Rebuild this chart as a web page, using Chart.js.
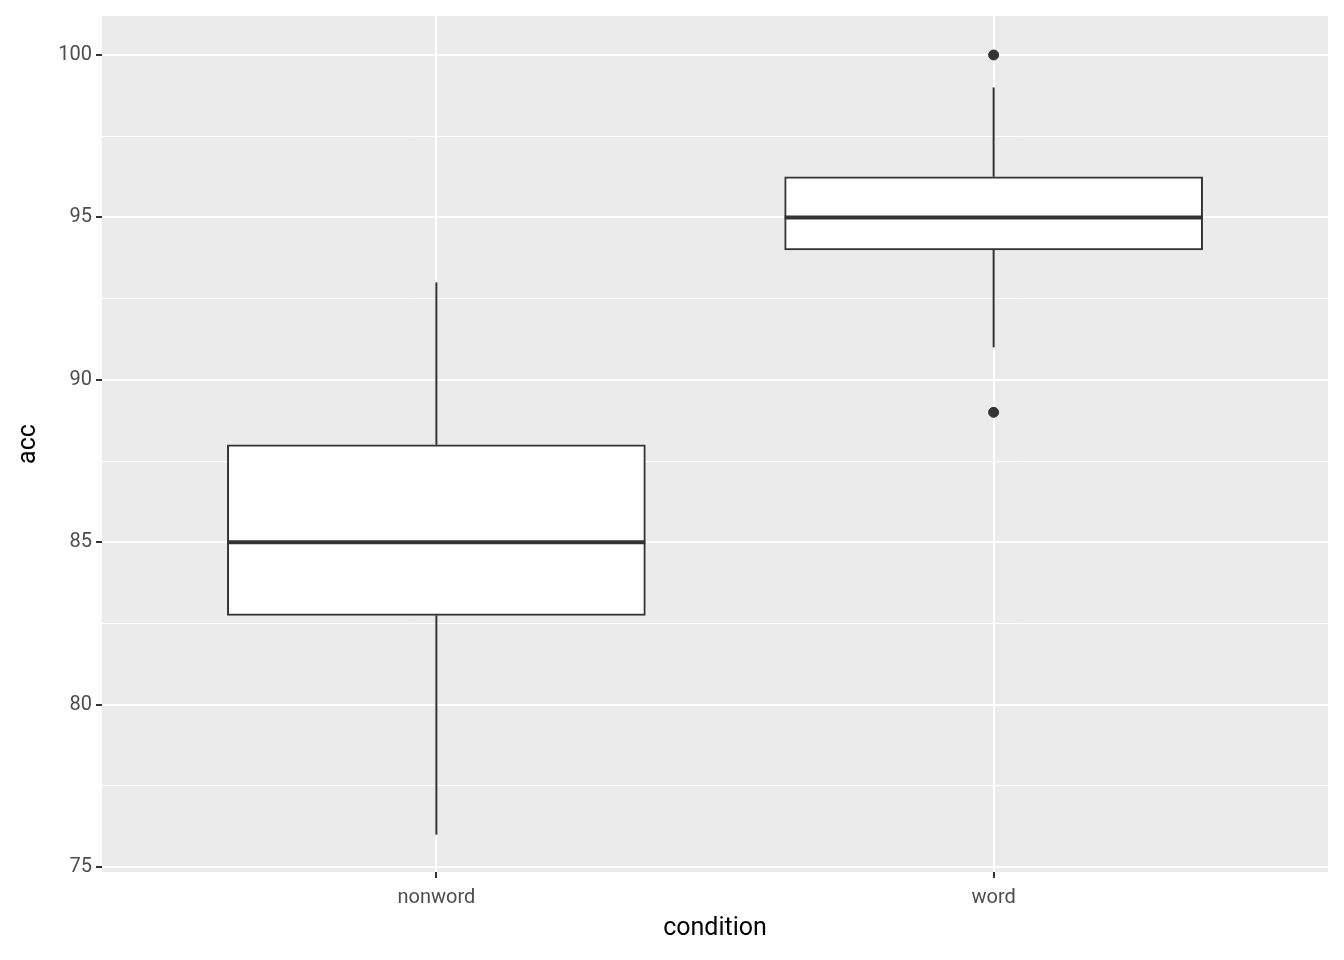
<!DOCTYPE html>
<html>
<head>
<meta charset="utf-8">
<script src="https://cdn.jsdelivr.net/npm/chart.js@4"></script>
<style>
  html, body { margin: 0; padding: 0; background: #fff; }
  #wrap { width: 1344px; height: 960px; }
</style>
</head>
<body>
<div id="wrap"><canvas id="boxChart"></canvas></div>
<script>
// Box summary per condition
const categories = ['nonword', 'word'];
const whiskerLow = [76, 91];
const q1 = [82.75, 94];
const medians = [85, 95];
const q3 = [88, 96.25];
const whiskerHigh = [93, 99];
const outliers = [[], [100, 89]];
const yTicks = [75, 80, 85, 90, 95, 100];

const boxHalf = 0.375;
const ink = '#333333';

// Paint the grey panel behind the grid
const panelBg = {
    id: 'panelBg',
    beforeDraw(chart) {
        const a = chart.chartArea;
        const ctx = chart.ctx;
        ctx.save();
        ctx.fillStyle = '#EBEBEB';
        ctx.fillRect(a.left, a.top, a.right - a.left, a.bottom - a.top);
        ctx.restore();
    }
};

const datasets = [];

// whiskers
categories.forEach((c, i) => {
    [[whiskerLow[i], q1[i]], [q3[i], whiskerHigh[i]]].forEach(seg => {
        datasets.push({
            type: 'scatter', showLine: true, order: 3,
            data: [{x: i + 1, y: seg[0]}, {x: i + 1, y: seg[1]}],
            borderColor: ink, borderWidth: 2, pointRadius: 0
        });
    });
});

// boxes
datasets.push({
    type: 'bar', order: 2,
    data: categories.map((c, i) => ({x: i + 1, y: [q1[i], q3[i]]})),
    backgroundColor: '#ffffff', borderColor: ink, borderWidth: 2,
    borderSkipped: false, barThickness: 418
});

// medians
categories.forEach((c, i) => {
    datasets.push({
        type: 'scatter', showLine: true, order: 1,
        data: [{x: i + 1 - boxHalf, y: medians[i]}, {x: i + 1 + boxHalf, y: medians[i]}],
        borderColor: ink, borderWidth: 4, pointRadius: 0
    });
});

// outliers
datasets.push({
    type: 'scatter', order: 0,
    data: outliers.flatMap((list, i) => list.map(v => ({x: i + 1, y: v}))),
    backgroundColor: ink, borderColor: ink, pointRadius: 5
});

const ctx = document.getElementById('boxChart').getContext('2d');
new Chart(ctx, {
    data: { datasets: datasets },
    plugins: [panelBg],
    options: {
        responsive: true,
        maintainAspectRatio: false,
        animation: false,
        layout: { padding: { left: 0, top: 14, right: 16, bottom: 12 } },
        plugins: { legend: { display: false }, tooltip: { enabled: false } },
        scales: {
            x: {
                type: 'linear', min: 0.4, max: 2.6, offset: false,
                afterBuildTicks: s => { s.ticks = [{value: 1}, {value: 2}]; },
                afterFit: s => { s.height = 76; },
                border: { display: false },
                grid: { offset: false, color: '#ffffff', lineWidth: 2, tickColor: '#333333', tickLength: 6 },
                ticks: {
                    color: '#4D4D4D', font: { family: 'Roboto', size: 20 }, padding: 8,
                    callback: v => categories[v - 1]
                },
                title: { display: true, text: 'condition', color: '#000', font: { family: 'Roboto', size: 25 }, padding: { top: 0 } }
            },
            y: {
                min: 74.85, max: 101.2,
                afterBuildTicks: s => {
                    const t = [];
                    for (let v = 75; v <= 100; v += 2.5) t.push({value: v});
                    s.ticks = t;
                },
                afterFit: s => { s.width = 102; },
                border: { display: false },
                grid: {
                    color: '#ffffff',
                    lineWidth: c => (yTicks.includes(c.tick.value) ? 2 : 1),
                    tickColor: c => (yTicks.includes(c.tick.value) ? '#333333' : 'rgba(0,0,0,0)'),
                    tickLength: 6
                },
                ticks: {
                    color: '#4D4D4D', font: { family: 'Roboto', size: 20 }, padding: 4,
                    callback: v => (yTicks.includes(v) ? String(v) : '')
                },
                title: { display: true, text: 'acc', color: '#000', font: { family: 'Roboto', size: 25 }, padding: { top: 14, bottom: 4 } }
            }
        }
    }
});
</script>
</body>
</html>
